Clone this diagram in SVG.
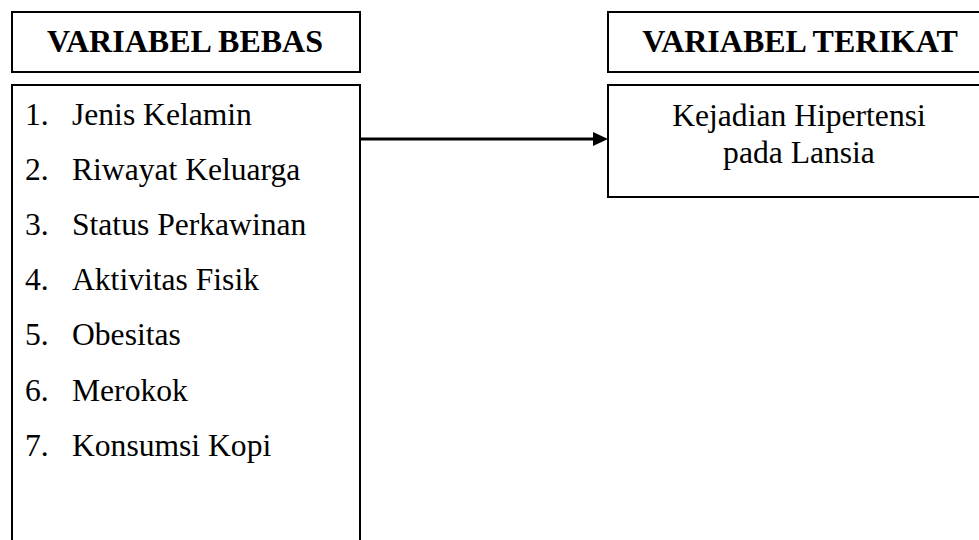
<svg xmlns="http://www.w3.org/2000/svg" width="979" height="540" viewBox="0 0 979 540">
<style>
.box{fill:#fff;stroke:#000;stroke-width:2}
.h{font-family:"Liberation Serif","Times New Roman",serif;font-weight:bold;font-size:32px;fill:#000}
.t{font-family:"Liberation Serif","Times New Roman",serif;font-size:31.6px;fill:#000}
</style>
<rect width="979" height="540" fill="#fff"/>
<g id="header-bebas">
<rect class="box" x="12" y="12" width="348" height="60"/>
<text class="h" x="185" y="52" text-anchor="middle">VARIABEL BEBAS</text>
</g>
<g id="list-bebas">
<rect class="box" x="12" y="85" width="348" height="470"/>
<text class="t" x="25" y="125">1.</text><text class="t" x="72" y="125">Jenis Kelamin</text>
<text class="t" x="25" y="180">2.</text><text class="t" x="72" y="180">Riwayat Keluarga</text>
<text class="t" x="25" y="235">3.</text><text class="t" x="72" y="235">Status Perkawinan</text>
<text class="t" x="25" y="290">4.</text><text class="t" x="72" y="290">Aktivitas Fisik</text>
<text class="t" x="25" y="345">5.</text><text class="t" x="72" y="345">Obesitas</text>
<text class="t" x="25" y="401">6.</text><text class="t" x="72" y="401">Merokok</text>
<text class="t" x="25" y="456">7.</text><text class="t" x="72" y="456">Konsumsi Kopi</text>
</g>
<g id="header-terikat">
<rect class="box" x="608" y="12" width="390" height="60"/>
<text class="h" x="800" y="52" text-anchor="middle">VARIABEL TERIKAT</text>
</g>
<g id="node-terikat">
<rect class="box" x="608" y="85" width="390" height="112"/>
<text class="t" x="799" y="126" text-anchor="middle">Kejadian Hipertensi</text>
<text class="t" x="799" y="163" text-anchor="middle">pada Lansia</text>
</g>
<g id="connectors">
<line x1="360" y1="139" x2="594" y2="139" stroke="#000" stroke-width="3"/>
<polygon points="593,132 608,139 593,146" fill="#000"/>
</g>
</svg>
